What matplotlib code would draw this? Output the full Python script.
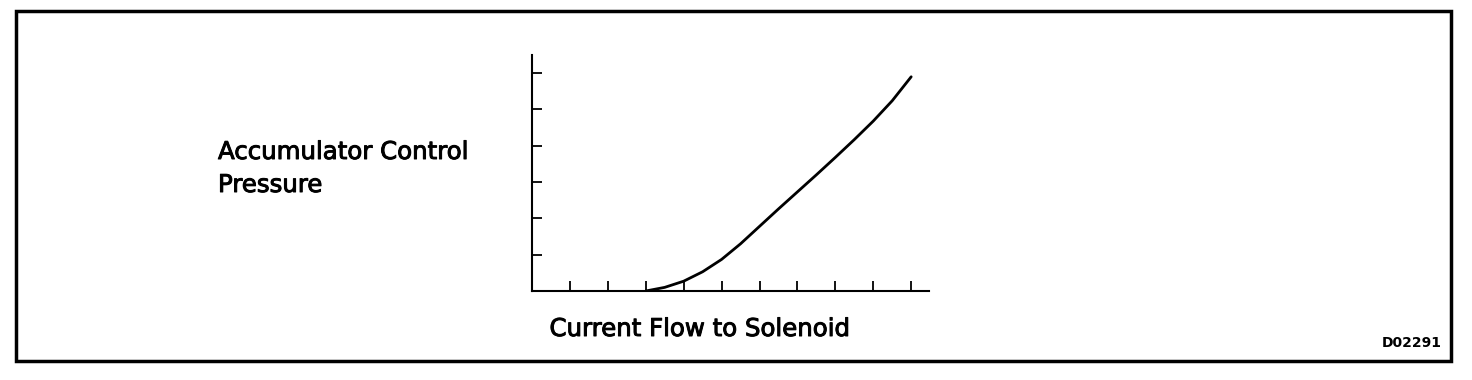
import matplotlib
matplotlib.use("Agg")
import matplotlib.pyplot as plt
import matplotlib.patheffects as pe
from matplotlib.patches import Rectangle

# Ablesewerte aus der Vorlage (Einheiten = Teilstriche)
current = [3.0, 3.5, 4.0, 4.5, 5.0, 5.5, 6.0, 6.5, 7.0, 7.5, 8.0, 8.5, 9.0, 9.5, 10.0]
pressure = [0.0, 0.1, 0.27, 0.53, 0.87, 1.3, 1.78, 2.26, 2.73, 3.2, 3.68, 4.17, 4.68, 5.24, 5.9]
x_ticks = [1, 2, 3, 4, 5, 6, 7, 8, 9, 10]
y_ticks = [1, 2, 3, 4, 5, 6]

y_label = ["Accumulator Control", "Pressure"]
x_label = "Current Flow to Solenoid"
code = "D02291"

W, H = 1472, 380
fig = plt.figure(figsize=(W / 100, H / 100), dpi=100)

# Rahmen um die ganze Grafik
fig.patches.append(Rectangle((15.5 / W, 19 / H), (1451 - 15.5) / W, (369 - 19) / H,
                             transform=fig.transFigure, fill=False,
                             edgecolor="black", linewidth=2.5))

ax = fig.add_axes([532 / W, (H - 291) / H, 397 / W, 236 / H])
ax.plot(current, pressure, color="black", linewidth=2.0,
        solid_capstyle="round", solid_joinstyle="round")

ax.set_xlim(0, 10.47)
ax.set_ylim(0, 6.5)
ax.set_xticks(x_ticks)
ax.set_yticks(y_ticks)
ax.tick_params(direction="in", length=7, width=1.3, labelbottom=False, labelleft=False)
for side in ("top", "right"):
    ax.spines[side].set_visible(False)
for side in ("left", "bottom"):
    ax.spines[side].set_linewidth(1.5)
ax.patch.set_alpha(0)

# Beschriftungen (leicht verdickt wie im Scan)
fs = 17.6
thick = [pe.withStroke(linewidth=0.7, foreground="black")]
fig.text(218 / W, (H - 159) / H, y_label[0], fontsize=fs, va="baseline", ha="left",
         path_effects=thick)
fig.text(218 / W, (H - 192) / H, y_label[1], fontsize=fs, va="baseline", ha="left",
         path_effects=thick)
fig.text(700 / W, (H - 336) / H, x_label, fontsize=fs, va="baseline", ha="center",
         path_effects=thick)
fig.text(1442 / W, (H - 347) / H, code, fontsize=10, fontweight="bold",
         va="baseline", ha="right")

fig.savefig("out.png", dpi=100)
